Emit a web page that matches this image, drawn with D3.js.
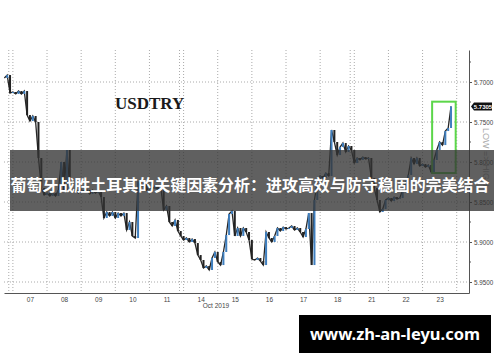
<!DOCTYPE html>
<html>
<head>
<meta charset="utf-8">
<script src="https://cdn.jsdelivr.net/npm/d3@7"></script>
<style>
  body { margin: 0; background: #fff; }
  svg { display: block; }
</style>
</head>
<body>
<div id="chart"></div>
<script>
// USDTRY, 2-hour closes, from the last bars of Fri Oct 04 to Wed Oct 23 2019
var usdtry = [
  5.6950, 5.6913, 5.7138, 5.7125,
  5.7150, 5.7113, 5.7150, 5.7113, 5.7413, 5.7488, 5.7425, 5.7500, 5.7950, 5.8325, 5.8413, 5.8388, // 07
  5.8425, 5.8388, 5.8425, 5.8350, 5.8000, 5.8350, 5.7850, 5.8325, 5.8375, 5.8350, 5.8388, 5.8350, // 08
  5.8375, 5.8350, 5.8400, 5.8350, 5.8388, 5.8363, 5.8438, 5.8700, 5.8625, 5.8675, 5.8625, 5.8700, // 09
  5.8638, 5.8675, 5.8638, 5.8850, 5.8750, 5.8925, 5.8950, 5.8250, 5.8313, 5.8275, 5.8350, 5.8313, // 10
  5.8338, 5.8300, 5.8350, 5.8325, 5.8600, 5.8550, 5.8750, 5.8800, 5.8725, 5.8863, 5.8925, 5.8975, // 11
  5.8950, 5.9000, 5.8963, 5.9013, 5.9163, 5.9225, 5.9325, 5.9300, 5.9350, 5.9200, 5.9125, 5.9250, // 14
  5.9288, 5.9125, 5.8913, 5.8650, 5.8613, 5.8925, 5.8825, 5.8925, 5.8825, 5.8875, 5.8975, 5.9213, // 15
  5.9225, 5.9200, 5.9238, 5.9288, 5.8875, 5.8950, 5.9000, 5.8925, 5.8825, 5.8863, 5.8813, 5.8838, // 16
  5.8825, 5.8800, 5.8850, 5.8825, 5.8875, 5.8938, 5.8838, 5.8638, 5.9288, 5.8475, 5.8250, 5.8175, // 17
  5.8200, 5.8138, 5.8175, 5.7600, 5.7750, 5.7913, 5.7813, 5.7763, 5.7875, 5.7800, 5.7850, 5.8013, // 18
  5.7950, 5.7975, 5.7938, 5.7963, 5.7950, 5.8200, 5.8325, 5.8475, 5.8625, 5.8588, 5.8475, 5.8450, // 21
  5.8488, 5.8438, 5.8463, 5.8450, 5.8350, 5.8275, 5.8163, 5.7950, 5.8025, 5.7950, 5.8050, 5.8025, // 22
  5.8063, 5.8038, 5.8125, 5.7975, 5.7850, 5.7750, 5.7788, 5.7613, 5.7575, 5.7305              // 23
];
var firstBar = -3;   // first close sits 3 bars before the Oct 07 open
var barsPerDay = 12;

var dayLabels = ["07", "08", "09", "10", "11", "14", "15", "16", "17", "18", "21", "22", "23"];
var weekendBreaks = [0, 5, 10];
var priceTicks = [5.70, 5.75, 5.80, 5.85, 5.90, 5.95];
var minorTicks = [5.675, 5.725, 5.775, 5.825, 5.875, 5.925];
var lastPrice = 5.7305;

// green highlight over the last session
var boxDays = [12.28, 12.97];
var boxPrices = [5.7246, 5.8138];

var title = "USDTRY";
var banner = "葡萄牙战胜土耳其的关键因素分析：进攻高效与防守稳固的完美结合";
var watermark = "www.zh-an-leyu.com";

var width = 500, height = 362;

var svg = d3.select("#chart").append("svg")
  .attr("width", width)
  .attr("height", height);

var x = d3.scaleLinear().domain([-0.26, 13.36]).range([4, 469]);
var y = d3.scaleLinear().domain([5.66, 5.96375]).range([50, 293]);

function barTime(i) { return (i + firstBar) / barsPerDay; }

// vertical dotted grid (day starts, doubled at weekends)
var vLines = d3.range(0, dayLabels.length + 1);
weekendBreaks.forEach(function(d) { vLines.push(d - 0.12); });
svg.append("g").selectAll("line")
  .data(vLines)
  .join("line")
  .attr("x1", function(d) { return x(d); })
  .attr("x2", function(d) { return x(d); })
  .attr("y1", y.range()[0])
  .attr("y2", y.range()[1])
  .attr("stroke", "#aaa")
  .attr("stroke-width", 1)
  .attr("stroke-dasharray", "1,2");

// horizontal dotted grid
svg.append("g").selectAll("line")
  .data(priceTicks)
  .join("line")
  .attr("x1", x.range()[0])
  .attr("x2", x.range()[1])
  .attr("y1", function(d) { return y(d); })
  .attr("y2", function(d) { return y(d); })
  .attr("stroke", "#aaa")
  .attr("stroke-width", 1)
  .attr("stroke-dasharray", "1,2");

// title
svg.append("text")
  .attr("x", 115)
  .attr("y", 109)
  .text(title)
  .style("font-family", "'Liberation Serif', 'DejaVu Serif', serif")
  .style("font-weight", "bold")
  .style("font-size", "17px")
  .style("fill", "#1a1a1a");

// price line + candle bodies
var line = d3.line()
  .x(function(d, i) { return x(barTime(i)); })
  .y(function(d) { return y(d); });

svg.append("path")
  .datum(usdtry)
  .attr("d", line)
  .attr("fill", "none")
  .attr("stroke", "#262626")
  .attr("stroke-width", 1.3);

svg.append("g").selectAll("rect")
  .data(usdtry.slice(1))
  .join("rect")
  .attr("x", function(d, i) { return x(barTime(i + 1)) - 1; })
  .attr("y", function(d, i) { return Math.min(y(d), y(usdtry[i])); })
  .attr("width", 2)
  .attr("height", function(d, i) { return Math.max(1, Math.abs(y(d) - y(usdtry[i]))); })
  .attr("fill", function(d, i) { return d < usdtry[i] ? "#3f7fbf" : "#222"; });

// green box
svg.append("rect")
  .attr("x", x(boxDays[0]))
  .attr("y", y(boxPrices[0]))
  .attr("width", x(boxDays[1]) - x(boxDays[0]))
  .attr("height", y(boxPrices[1]) - y(boxPrices[0]))
  .attr("fill", "none")
  .attr("stroke", "#5cd64a")
  .attr("stroke-width", 2);

// right price axis
var yAxis = d3.axisRight(y)
  .tickValues(priceTicks)
  .tickFormat(d3.format(".4f"))
  .tickSizeInner(3)
  .tickSizeOuter(0)
  .tickPadding(2);

var yg = svg.append("g")
  .attr("transform", "translate(" + x.range()[1] + ",0)")
  .call(yAxis);
yg.select(".domain").attr("stroke", "#555");
yg.selectAll(".tick line").attr("stroke", "#555");
yg.selectAll("text")
  .style("font-family", "'Liberation Sans', Arial, sans-serif")
  .style("font-size", "6.3px")
  .style("fill", "#444");

svg.append("g").selectAll("line")
  .data(minorTicks)
  .join("line")
  .attr("x1", x.range()[1])
  .attr("x2", x.range()[1] + 2)
  .attr("y1", function(d) { return y(d); })
  .attr("y2", function(d) { return y(d); })
  .attr("stroke", "#555");

// bottom day axis
var xAxis = d3.axisBottom(x)
  .tickValues(dayLabels.map(function(d, i) { return i + 0.5; }))
  .tickFormat(function(d, i) { return dayLabels[i]; })
  .tickSize(0)
  .tickPadding(4);

var xg = svg.append("g")
  .attr("transform", "translate(0," + y.range()[1] + ")")
  .call(xAxis);
xg.select(".domain").attr("stroke", "#555");
xg.selectAll("text")
  .style("font-family", "'Liberation Sans', Arial, sans-serif")
  .style("font-size", "6.5px")
  .style("fill", "#444");

svg.append("text")
  .attr("x", x(5.95))
  .attr("y", 308)
  .attr("text-anchor", "middle")
  .text("Oct 2019")
  .style("font-family", "'Liberation Sans', Arial, sans-serif")
  .style("font-size", "6.5px")
  .style("fill", "#444");

// last price tag
var tag = svg.append("g")
  .attr("transform", "translate(" + (x.range()[1] + 2) + "," + y(lastPrice) + ")");
tag.append("path")
  .attr("d", "M0,0 L3,-4 L21,-4 L21,4 L3,4 Z")
  .attr("fill", "#111");
tag.append("text")
  .attr("x", 12)
  .attr("y", 2.2)
  .attr("text-anchor", "middle")
  .text(d3.format(".4f")(lastPrice))
  .style("font-family", "'Liberation Sans', Arial, sans-serif")
  .style("font-size", "6px")
  .style("font-weight", "bold")
  .style("fill", "#fff");

// rotated side label
svg.append("text")
  .attr("transform", "translate(483,128) rotate(90)")
  .text("LOW => HIGH")
  .style("font-family", "'Liberation Sans', Arial, sans-serif")
  .style("font-size", "9px")
  .style("fill", "#aaa");

// dark banner with headline
svg.append("rect")
  .attr("x", 10)
  .attr("y", 150)
  .attr("width", 484)
  .attr("height", 61)
  .attr("fill", "#333")
  .attr("fill-opacity", 0.78);

svg.append("text")
  .attr("x", 250)
  .attr("y", 191)
  .attr("text-anchor", "middle")
  .attr("textLength", 479)
  .attr("lengthAdjust", "spacingAndGlyphs")
  .text(banner)
  .style("font-family", "'Noto Sans CJK SC', sans-serif")
  .style("font-weight", "bold")
  .style("font-size", "15.5px")
  .style("fill", "#fff");

// watermark
svg.append("rect")
  .attr("x", 299)
  .attr("y", 315)
  .attr("width", 192)
  .attr("height", 38)
  .attr("fill", "#000");

svg.append("text")
  .attr("x", 395)
  .attr("y", 340)
  .attr("text-anchor", "middle")
  .attr("textLength", 170)
  .attr("lengthAdjust", "spacingAndGlyphs")
  .text(watermark)
  .style("font-family", "'Noto Sans', 'DejaVu Sans', sans-serif")
  .style("font-weight", "bold")
  .style("font-size", "16px")
  .style("fill", "#fff");
</script>
</body>
</html>
